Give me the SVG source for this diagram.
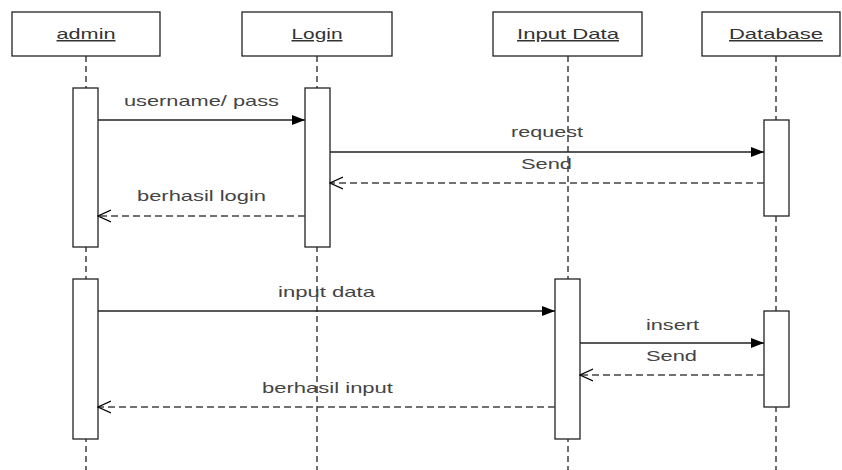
<svg xmlns="http://www.w3.org/2000/svg" width="842" height="470" viewBox="0 0 842 470">
<style>
.box{fill:#fff;stroke:#222;stroke-width:1.3}
.act{fill:#fff;stroke:#222;stroke-width:1.3}
.life{stroke:#222;stroke-width:1.3;stroke-dasharray:6,4;fill:none}
.msg{stroke:#222;stroke-width:1.3;fill:none}
.ret{stroke:#444;stroke-width:1.3;stroke-dasharray:7,4;fill:none}
.nt{font-family:"Liberation Sans",Arial,sans-serif;font-size:15px;fill:#333;text-anchor:middle;text-decoration:underline}
.lt{font-family:"Liberation Sans",Arial,sans-serif;font-size:15px;fill:#444}
</style>
<defs>
<marker id="filled" markerWidth="14" markerHeight="12" refX="13" refY="6" orient="auto" markerUnits="userSpaceOnUse">
<path d="M0,1 L13,6 L0,11 Z" fill="#000"/>
</marker>
<marker id="open" markerWidth="14" markerHeight="14" refX="13" refY="7" orient="auto" markerUnits="userSpaceOnUse">
<path d="M0,1 L13,7 L0,13" fill="none" stroke="#000" stroke-width="1.2"/>
</marker>
</defs>
<g id="lifelines">
<line class="life" x1="86" y1="56" x2="86" y2="470"/>
<line class="life" x1="317" y1="56" x2="317" y2="470"/>
<line class="life" x1="568" y1="56" x2="568" y2="470"/>
<line class="life" x1="776" y1="56" x2="776" y2="470"/>
</g>
<g id="admin">
<rect class="box" x="12" y="12" width="148" height="44"/>
<text class="nt" x="86" y="39" textLength="59" lengthAdjust="spacingAndGlyphs">admin</text>
</g>
<g id="login">
<rect class="box" x="242" y="12" width="150" height="44"/>
<text class="nt" x="317" y="39" textLength="51" lengthAdjust="spacingAndGlyphs">Login</text>
</g>
<g id="inputdata">
<rect class="box" x="493" y="12" width="149" height="44"/>
<text class="nt" x="568" y="39" textLength="102" lengthAdjust="spacingAndGlyphs">Input Data</text>
</g>
<g id="database">
<rect class="box" x="702" y="12" width="138" height="44"/>
<text class="nt" x="776" y="39" textLength="94" lengthAdjust="spacingAndGlyphs">Database</text>
</g>
<g id="activations">
<rect class="act" x="73" y="88" width="25" height="159"/>
<rect class="act" x="305" y="88" width="25" height="159"/>
<rect class="act" x="764" y="120" width="25" height="96"/>
<rect class="act" x="73" y="279" width="25" height="160"/>
<rect class="act" x="555" y="279" width="25" height="160"/>
<rect class="act" x="764" y="311" width="25" height="96"/>
</g>
<g id="connectors">
<line class="msg" x1="98" y1="120" x2="305" y2="120" marker-end="url(#filled)"/>
<line class="msg" x1="330" y1="152" x2="764" y2="152" marker-end="url(#filled)"/>
<line class="ret" x1="764" y1="183" x2="330" y2="183" marker-end="url(#open)"/>
<line class="ret" x1="305" y1="216" x2="98" y2="216" marker-end="url(#open)"/>
<line class="msg" x1="98" y1="311" x2="555" y2="311" marker-end="url(#filled)"/>
<line class="msg" x1="580" y1="343" x2="764" y2="343" marker-end="url(#filled)"/>
<line class="ret" x1="764" y1="375" x2="580" y2="375" marker-end="url(#open)"/>
<line class="ret" x1="555" y1="407" x2="98" y2="407" marker-end="url(#open)"/>
</g>
<g id="labels">
<text class="lt" x="124" y="106" textLength="155" lengthAdjust="spacingAndGlyphs">username/ pass</text>
<text class="lt" x="511" y="137" textLength="72" lengthAdjust="spacingAndGlyphs">request</text>
<text class="lt" x="521" y="169" textLength="51" lengthAdjust="spacingAndGlyphs">Send</text>
<text class="lt" x="137" y="201" textLength="129" lengthAdjust="spacingAndGlyphs">berhasil login</text>
<text class="lt" x="278" y="297" textLength="97" lengthAdjust="spacingAndGlyphs">input data</text>
<text class="lt" x="646" y="330" textLength="53" lengthAdjust="spacingAndGlyphs">insert</text>
<text class="lt" x="646" y="361" textLength="51" lengthAdjust="spacingAndGlyphs">Send</text>
<text class="lt" x="262" y="393" textLength="131" lengthAdjust="spacingAndGlyphs">berhasil input</text>
</g>
</svg>
